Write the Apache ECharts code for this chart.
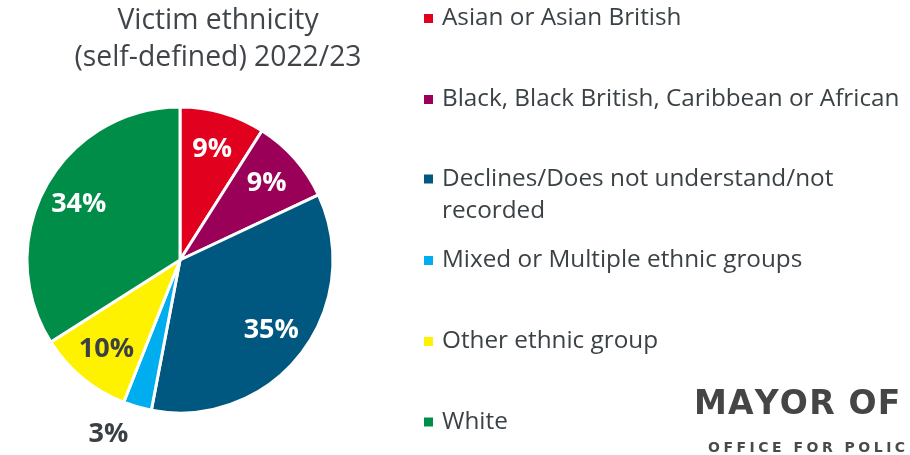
<!DOCTYPE html>
<html>
<head>
<meta charset="utf-8">
<script src="https://cdn.jsdelivr.net/npm/echarts@6/dist/echarts.min.js"></script>
<style>
  html, body { margin: 0; padding: 0; background: #ffffff; }
  #chart { width: 910px; height: 455px; }
</style>
</head>
<body>
<div id="chart"></div>
<script>
// Victim ethnicity shares (percent), clockwise from 12 o'clock
const categories = [
  'Asian or Asian British',
  'Black, Black British, Caribbean or African',
  'Declines/Does not understand/not recorded',
  'Mixed or Multiple ethnic groups',
  'Other ethnic group',
  'White'
];
// Legend wording; the long entry wraps, its marker sitting on the first line
const legendLabels = [
  'Asian or Asian British',
  'Black, Black British, Caribbean or African',
  '\nDeclines/Does not understand/not\nrecorded',
  'Mixed or Multiple ethnic groups',
  'Other ethnic group',
  'White'
];
const shares = [9, 9, 35, 3, 10, 34];
const sliceColors = ['#e1001e', '#9b0058', '#00577f', '#00aeef', '#fff200', '#008d47'];
const labelColors = ['#ffffff', '#ffffff', '#ffffff', '#3b4045', '#3b4045', '#ffffff'];
const legendTops = [2.5, 83.5, 131, 244.5, 325.5, 406];

const FONT = '"Open Sans", "Noto Sans", sans-serif';
const LOGO_FONT = '"DejaVu Sans", sans-serif';
const TEXT_DARK = '#3b4246';
const CENTER = [180, 260];
const RADIUS = 153;

// Spaced-out capitals for the logo lettering
function spaced(str) {
  return str.split('').map(ch => '{l|' + ch + '}').join('');
}

const chart = echarts.init(document.getElementById('chart'), null, { renderer: 'canvas' });

// Filled slices
const sliceData = categories.map((name, i) => ({
  name: name,
  value: shares[i],
  itemStyle: { color: sliceColors[i] }
}));

// Transparent ring carrying the percentage labels further out than mid-radius
const labelData = categories.map((name, i) => {
  const item = {
    name: name,
    value: shares[i],
    label: { color: labelColors[i] }
  };
  if (shares[i] < 5) {
    item.label.position = 'outside';
    item.label.distanceToLabelLine = 1;
    item.labelLine = { show: false, length: 29, length2: 0 };
  }
  return item;
});

const legends = categories.map((name, i) => ({
  data: [name],
  orient: 'vertical',
  left: 422,
  top: legendTops[i],
  padding: 0,
  icon: 'rect',
  itemWidth: 11,
  itemHeight: 11,
  selectedMode: false,
  formatter: () => legendLabels[i],
  textStyle: {
    fontFamily: FONT,
    fontSize: 24.3,
    color: TEXT_DARK,
    lineHeight: 32,
    padding: [0, 0, 0, 3]
  }
}));

chart.setOption({
  backgroundColor: '#ffffff',
  animation: false,
  legend: legends,
  graphic: [
    {
      type: 'text',
      x: 218,
      y: 2.5,
      style: {
        text: 'Victim ethnicity\n(self-defined) 2022/23',
        fontFamily: FONT,
        fontSize: 28.3,
        lineHeight: 37,
        fill: '#40454a',
        align: 'center',
        verticalAlign: 'top'
      }
    },
    {
      type: 'text',
      x: 694,
      y: 405,
      style: {
        text: spaced('MAYOR OF LONDON'),
        fill: '#454545',
        verticalAlign: 'middle',
        rich: {
          l: {
            fontFamily: LOGO_FONT,
            fontWeight: 'bold',
            fontSize: 33,
            fill: '#454545',
            padding: [0, 1.2, 0, 0]
          }
        }
      }
    },
    {
      type: 'text',
      x: 708,
      y: 448.5,
      style: {
        text: spaced('OFFICE FOR POLICING AND CRIME'),
        fill: '#4a4a4a',
        verticalAlign: 'middle',
        rich: {
          l: {
            fontFamily: LOGO_FONT,
            fontWeight: 'bold',
            fontSize: 14,
            fill: '#4a4a4a',
            padding: [0, 3.5, 0, 0]
          }
        }
      }
    }
  ],
  series: [
    {
      type: 'pie',
      center: CENTER,
      radius: RADIUS,
      startAngle: 90,
      clockwise: true,
      silent: true,
      label: { show: false },
      labelLine: { show: false },
      itemStyle: { borderColor: '#ffffff', borderWidth: 3 },
      emphasis: { disabled: true },
      data: sliceData
    },
    {
      type: 'pie',
      center: CENTER,
      radius: [72, RADIUS],
      startAngle: 90,
      clockwise: true,
      silent: true,
      avoidLabelOverlap: false,
      itemStyle: { color: 'rgba(0,0,0,0)', borderWidth: 0 },
      emphasis: { disabled: true },
      label: {
        show: true,
        position: 'inside',
        formatter: '{c}%',
        fontFamily: FONT,
        fontWeight: 'bold',
        fontSize: 27
      },
      labelLine: { show: false },
      data: labelData
    }
  ]
});
</script>
</body>
</html>
